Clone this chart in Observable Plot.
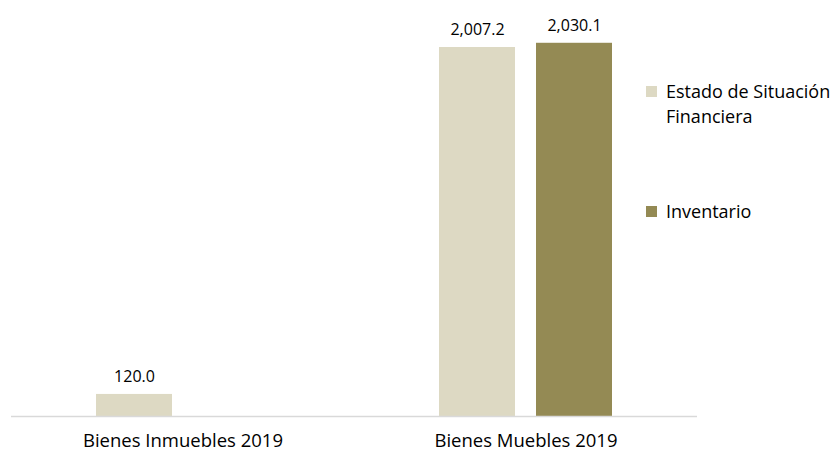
<!DOCTYPE html>
<html>
<head>
<meta charset="utf-8">
<script src="https://cdn.jsdelivr.net/npm/d3@7"></script>
<script src="https://cdn.jsdelivr.net/npm/@observablehq/plot@0.6"></script>
<style>
  html, body { margin: 0; padding: 0; background: #fff; }
  #wrap { position: relative; width: 834px; height: 451px; font-family: "Open Sans", sans-serif; }
  #legend { position: absolute; left: 646px; top: 79px; font-size: 18px; color: #000; }
  .item { position: relative; padding-left: 20px; line-height: 25px; }
  .sw { position: absolute; left: 0; top: 7px; width: 11px; height: 11px; }
</style>
</head>
<body>
<div id="wrap"><div id="legend"></div></div>
<script>
const categories = ["Bienes Inmuebles 2019", "Bienes Muebles 2019"];
const series = ["Estado de Situación Financiera", "Inventario"];
const estadoValues = [120.0, 2007.2];
const inventarioValues = [null, 2030.1];
const colors = ["#DDD9C3", "#948A54"];

const data = [];
categories.forEach((c, i) => {
  if (estadoValues[i] != null) data.push({cat: c, serie: series[0], value: estadoValues[i]});
  if (inventarioValues[i] != null) data.push({cat: c, serie: series[1], value: inventarioValues[i]});
});

const fmt = d3.format(",.1f");

const chart = Plot.plot({
  width: 834,
  height: 451,
  marginLeft: 10,
  marginRight: 137,
  marginTop: 20,
  marginBottom: 35,
  style: {fontFamily: "Open Sans, sans-serif", fontSize: "16px", color: "#000"},
  fx: {domain: categories, padding: 0, label: null, axis: "bottom", tickSize: 0, tickPadding: 17},
  x: {domain: series, paddingInner: 0.22, paddingOuter: 0.872, axis: null},
  y: {domain: [0, 2154], axis: null},
  color: {domain: series, range: colors},
  marks: [
    Plot.barY(data, {fx: "cat", x: "serie", y: "value", fill: "serie"}),
    Plot.text(data, {fx: "cat", x: "serie", y: "value", text: d => fmt(d.value), lineAnchor: "bottom", dy: -12, fill: "#000", fontSize: 16}),
    Plot.ruleY([0], {stroke: "#D9D9D9", strokeWidth: 1.3})
  ]
});
d3.select(chart).selectAll("[aria-label='fx-axis tick label'] text").attr("font-size", 18.5);
d3.select(chart).selectAll("[aria-label='fx-axis tick label']").attr("font-size", 18.5);
document.getElementById("wrap").prepend(chart);

const leg = document.getElementById("legend");
const legendLines = [["Estado de Situación", "Financiera"], ["Inventario"]];
legendLines.forEach((lines, i) => {
  const it = document.createElement("div");
  it.className = "item";
  it.style.marginBottom = i === 0 ? "70px" : "0";
  const sw = document.createElement("span");
  sw.className = "sw";
  sw.style.background = colors[i];
  it.appendChild(sw);
  it.insertAdjacentHTML("beforeend", lines.join("<br>"));
  leg.appendChild(it);
});
</script>
</body>
</html>
